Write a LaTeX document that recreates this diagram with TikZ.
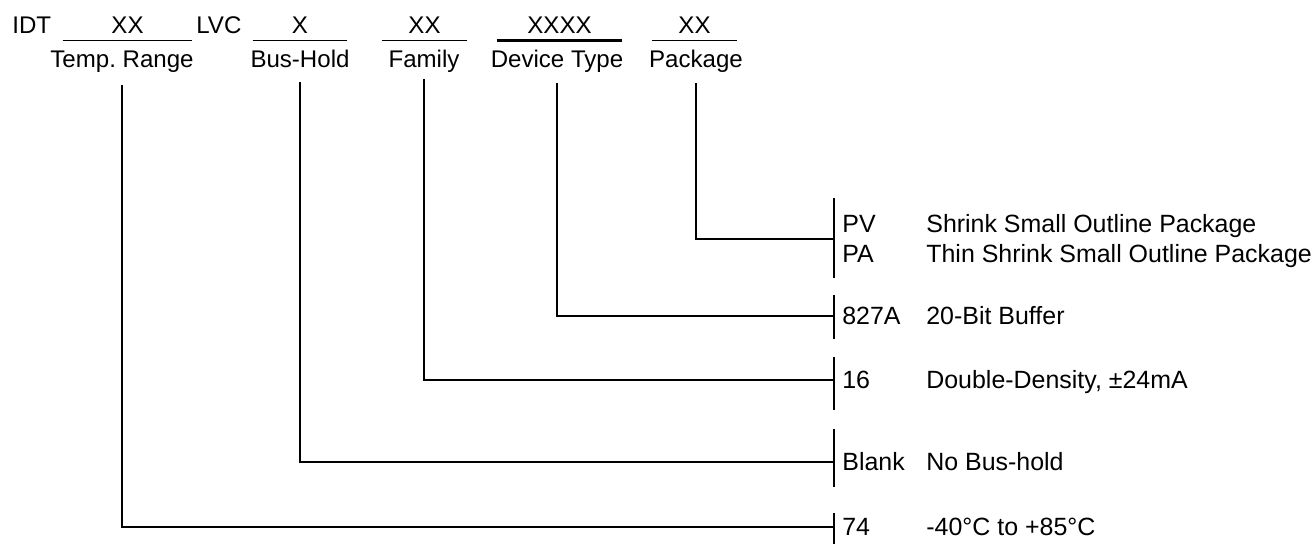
\documentclass[tikz,border=0pt]{standalone}
\usepackage{fontspec}
\setmainfont{Liberation Sans}
\usepackage{tikz}
\usetikzlibrary{positioning, calc}
\tikzstyle{field} = [anchor=base, inner xsep=0pt, inner ysep=0.12cm, text depth=0pt]
\tikzstyle{fieldName} = [anchor=base, inner sep=0pt, text depth=0pt]
\tikzstyle{codeText} = [anchor=west, inner xsep=0.16cm, inner ysep=0pt,
   font=\fontsize{14.2pt}{17pt}\selectfont, text height=0.356cm, text depth=0pt]
\tikzstyle{descText} = [anchor=west, inner sep=0pt,
   font=\fontsize{14.2pt}{17pt}\selectfont, text height=0.356cm, text depth=0pt]
\tikzstyle{wire} = [line width=0.85pt]
\tikzstyle{heavy} = [line width=1.4pt]

\begin{document}
\begin{tikzpicture}[
  x=0.02cm, y=-0.02cm,
  font=\fontsize{13.7pt}{16pt}\selectfont,
  ]
  \useasboundingbox (0,0) rectangle (1315,544);
  % part number
  \node[fieldName, anchor=base west] (idt) at (12,34) {IDT};
  \node[field, minimum width=2.58cm] (fTemp) at (127.5,34) {XX};
  \node[fieldName, anchor=base west] (lvc) at (196,34) {LVC};
  \node[field, minimum width=1.88cm] (fBus) at (300,34) {X};
  \node[field, minimum width=1.70cm] (fFam) at (424.5,34) {XX};
  \node[field, minimum width=2.50cm] (fDev) at (559.5,34) {XXXX};
  \node[field, minimum width=1.70cm] (fPkg) at (694.5,34) {XX};
  \draw[wire] (fTemp.south west) -- (fTemp.south east);
  \draw[wire] (fBus.south west) -- (fBus.south east);
  \draw[wire] (fFam.south west) -- (fFam.south east);
  \draw[heavy] (fDev.south west) -- (fDev.south east);
  \draw[wire] (fPkg.south west) -- (fPkg.south east);
  \node[fieldName] (temp) at (122,68) {Temp.\ Range};
  \node[fieldName] (bus) at (300,68) {Bus-Hold};
  \node[fieldName] (fam) at (424,68) {Family};
  \node[fieldName] (dev) at (557,68) {Device Type};
  \node[fieldName] (pkg) at (696,68) {Package};
  % options
  \node[codeText] (cPV) at (834,224) {PV};
  \node[descText] (dPV) at ($(cPV.west)+(92,0)$) {Shrink Small Outline Package};
  \node[codeText] (cPA) at (834,254) {PA};
  \node[descText] (dPA) at ($(cPA.west)+(92,0)$) {Thin Shrink Small Outline Package};
  \node[codeText] (c827) at (834,316) {827A};
  \node[descText] (d827) at ($(c827.west)+(92,0)$) {20-Bit Buffer};
  \node[codeText] (c16) at (834,380) {16};
  \node[descText] (d16) at ($(c16.west)+(92,0)$) {Double-Density, ±24mA};
  \node[codeText] (cBlank) at (834,462) {Blank};
  \node[descText] (dBlank) at ($(cBlank.west)+(92,0)$) {No Bus-hold};
  \node[codeText] (c74) at (834,527) {74};
  \node[descText] (d74) at ($(c74.west)+(92,0)$) {-40°C to +85°C};
  \draw[wire] ($(cPV.west)+(0,-26)$) -- ($(cPA.west)+(0,24)$);
  \draw[wire] ($(c827.west)+(0,-21)$) -- ($(c827.west)+(0,23)$);
  \draw[wire] ($(c16.west)+(0,-23)$) -- ($(c16.west)+(0,30)$);
  \draw[heavy] ($(cBlank.west)+(0,-33)$) -- ($(cBlank.west)+(0,25)$);
  \draw[wire] ($(c74.west)+(0,-14)$) -- ($(c74.west)+(0,17)$);
  % connectors
  \coordinate (pkgJoin) at ($(cPV.west)!0.5!(cPA.west)$);
  \draw[wire] ($(pkg.south)+(0,15)$) |- (pkgJoin);
  \draw[wire] ($(dev.south)+(0,15)$) |- (c827.west);
  \draw[wire] ($(fam.south)+(0,11)$) |- (c16.west);
  \draw[wire] ($(bus.south)+(0,14)$) |- (cBlank.west);
  \draw[wire] ($(temp.south)+(0,17)$) |- (c74.west);
  % heavier strokes
  \draw[heavy] (dev.south |- c827.west) -- (c827.west);
  \draw[heavy] (fam.south |- c16.west) -- (c16.west);
  \draw[heavy] ($(bus.south)+(0,14)$) -- (bus.south |- cBlank.west);
\end{tikzpicture}
\end{document}
